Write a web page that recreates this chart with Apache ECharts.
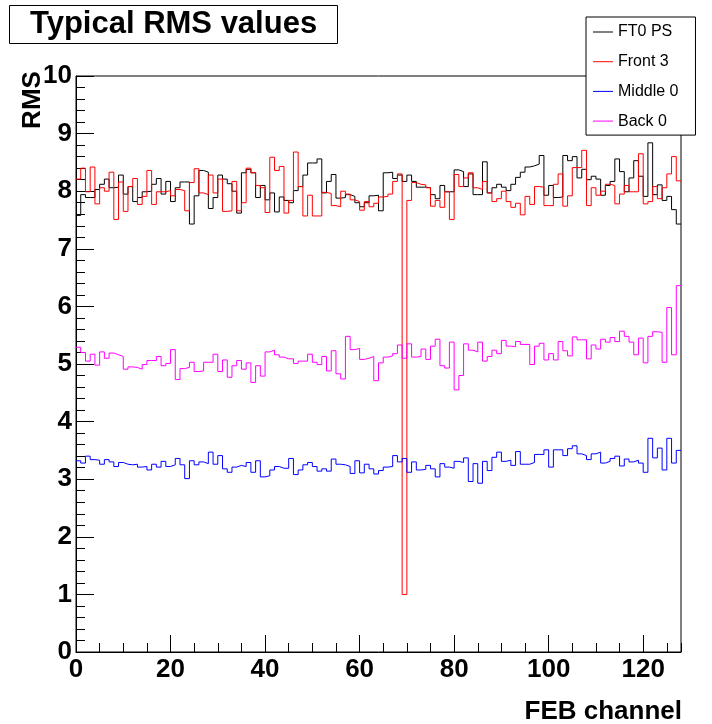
<!DOCTYPE html>
<html>
<head>
<meta charset="utf-8">
<script src="https://cdn.jsdelivr.net/npm/echarts@6/dist/echarts.min.js"></script>
<style>
html,body{margin:0;padding:0;background:#fff;}
#chart{width:712px;height:724px;}
</style>
</head>
<body>
<div id="chart"></div>
<script>
const nBins = 128;
const seriesNames = ['FT0 PS', 'Front 3', 'Middle 0', 'Back 0'];
const xTickValues = [0, 20, 40, 60, 80, 100, 120];
const yTickValues = [0, 1, 2, 3, 4, 5, 6, 7, 8, 9, 10];

const ft0ps = [7.58,7.94,7.89,7.89,8.03,8.12,8.21,8.06,8.07,8.28,
 7.95,8.08,7.82,7.89,7.99,8.00,8.12,8.22,7.95,8.17,
 7.82,8.06,8.16,8.16,7.43,7.92,8.36,8.33,7.70,7.89,
 8.28,8.21,8.13,8.00,7.62,8.32,8.38,8.32,7.89,8.10,
 7.85,7.97,7.64,7.90,7.84,7.80,8.01,8.08,8.28,8.49,
 8.49,8.56,7.97,8.17,8.29,7.88,7.89,7.94,7.91,7.80,
 7.73,7.80,7.92,7.93,7.66,8.32,8.33,8.22,8.28,8.17,
 8.28,8.17,8.07,8.07,8.06,7.94,7.87,8.10,7.99,7.99,
 8.37,8.34,8.08,8.30,7.94,7.94,8.51,7.97,8.06,8.12,
 8.07,8.01,8.12,8.24,8.33,8.42,8.44,8.47,8.62,7.93,
 8.10,7.89,7.90,8.62,8.53,8.60,8.23,8.38,8.20,8.26,
 8.21,7.93,8.10,8.17,8.56,8.34,7.99,8.23,8.53,8.26,
 7.91,8.84,7.94,8.11,7.84,7.91,7.68,7.43];

const front3 = [8.21,8.40,7.99,8.42,7.78,8.06,8.00,8.33,7.51,8.16,
 7.65,8.08,8.22,7.77,7.91,8.36,7.77,7.99,7.99,8.01,
 7.92,8.03,8.01,7.66,8.15,8.39,7.97,7.94,8.28,7.97,
 8.21,7.65,7.66,8.17,7.66,7.80,8.40,8.32,8.10,8.06,
 7.63,8.59,8.36,8.43,7.62,7.84,8.68,8.08,7.57,7.93,
 7.57,7.57,7.98,7.96,7.75,7.73,8.00,7.95,7.85,7.82,
 7.67,7.82,7.73,7.79,7.90,7.91,7.95,8.17,8.30,1.00,
 7.84,8.15,8.12,8.11,8.06,7.74,7.84,7.72,7.99,7.51,
 8.29,8.08,8.23,8.32,8.06,8.03,8.17,7.97,7.82,7.87,
 8.00,7.82,7.72,7.79,7.59,7.91,7.77,8.08,8.07,7.75,
 7.75,8.12,8.30,7.74,7.92,8.41,8.41,8.71,7.75,8.06,
 7.93,8.00,8.12,8.10,7.78,7.95,8.10,7.99,7.99,8.65,
 7.78,7.82,8.08,7.87,8.06,8.30,8.60,8.18];

const middle0 = [3.32,3.28,3.40,3.34,3.33,3.26,3.34,3.30,3.22,3.29,
 3.26,3.25,3.26,3.21,3.22,3.16,3.26,3.21,3.31,3.22,
 3.25,3.36,3.25,3.01,3.32,3.25,3.30,3.27,3.47,3.26,
 3.41,3.18,3.12,3.21,3.24,3.22,3.29,3.12,3.32,3.04,
 3.06,3.16,3.22,3.19,3.19,3.36,3.08,3.16,3.25,3.29,
 3.22,3.14,3.18,3.14,3.35,3.26,3.25,3.22,3.10,3.32,
 3.11,3.26,3.18,3.09,3.15,3.21,3.22,3.41,3.30,3.36,
 3.12,3.30,3.16,3.17,3.24,3.18,3.04,3.27,3.21,3.19,
 3.31,3.29,3.37,2.96,3.27,2.93,3.31,3.15,3.38,3.47,
 3.31,3.33,3.24,3.48,3.26,3.26,3.29,3.43,3.43,3.51,
 3.21,3.51,3.51,3.41,3.53,3.58,3.44,3.41,3.34,3.44,
 3.47,3.28,3.31,3.36,3.40,3.23,3.35,3.30,3.33,3.28,
 3.12,3.71,3.37,3.54,3.16,3.71,3.28,3.50];

const back0 = [5.29,5.20,5.05,5.17,4.98,5.21,5.10,5.19,5.16,5.13,
 4.91,4.95,4.94,4.91,4.99,5.06,5.06,5.13,4.97,5.01,
 5.25,4.73,4.92,4.94,5.03,4.87,4.88,5.03,5.03,5.17,
 4.87,5.07,4.77,4.97,5.06,4.91,5.02,4.68,4.97,4.79,
 5.21,5.24,5.16,5.12,5.09,5.09,5.01,5.05,5.05,5.17,
 5.03,4.99,5.13,4.88,5.23,4.83,4.74,5.48,5.25,5.27,
 5.08,5.10,5.13,4.71,5.02,5.12,5.14,5.18,5.33,5.10,
 5.35,5.12,5.13,5.26,5.08,5.31,5.43,4.97,4.93,5.38,
 4.55,4.80,5.35,5.24,5.21,5.38,5.05,5.13,5.24,5.18,
 5.41,5.31,5.30,5.39,5.34,5.34,4.99,5.31,5.36,5.07,
 5.18,5.07,5.39,5.23,5.14,5.47,5.42,5.42,5.09,5.33,
 5.26,5.43,5.38,5.46,5.39,5.57,5.48,5.38,5.16,5.45,
 5.02,5.48,5.56,5.55,5.03,5.98,5.16,6.36];

const seriesColors = ['#000000', '#ff0000', '#0000ff', '#ff00ff'];
const seriesValues = [ft0ps, front3, middle0, back0];

const FONT = '"Liberation Sans", Arial, Helvetica, sans-serif';

function histPoints(vals) {
  const pts = vals.map((v, i) => [i, v]);
  pts.push([nBins, vals[vals.length - 1]]);
  return pts;
}

const chart = echarts.init(document.getElementById('chart'), null, {renderer: 'canvas'});

const gridBox = {left: 76, top: 76, width: 605, height: 576};

const option = {
  animation: false,
  backgroundColor: '#ffffff',
  title: {
    text: 'Typical RMS values',
    left: 9, top: 5,
    padding: [4, 21],
    borderColor: '#000', borderWidth: 1, backgroundColor: '#fff',
    textStyle: {fontFamily: FONT, fontWeight: 'bold', fontSize: 31, lineHeight: 31, color: '#000'}
  },
  legend: {
    orient: 'vertical', left: 586, top: 17,
    padding: [7, 17, 6, 7],
    itemWidth: 20, itemHeight: 1, itemGap: 13.7,
    icon: 'rect',
    align: 'left',
    backgroundColor: '#fff', borderColor: '#000', borderWidth: 1,
    textStyle: {fontFamily: FONT, fontSize: 16, lineHeight: 16, color: '#000'},
    data: seriesNames,
    z: 10
  },
  grid: [
    Object.assign({show: true, borderColor: '#000', borderWidth: 1, backgroundColor: 'transparent'}, gridBox),
    Object.assign({show: false}, gridBox)
  ],
  xAxis: [
    {
      type: 'value', gridIndex: 0, min: 0, max: nBins, interval: 20,
      axisLine: {show: true, lineStyle: {color: '#000', width: 1}},
      axisTick: {show: true, inside: true, length: 17, lineStyle: {color: '#000'}},
      axisLabel: {
        show: true, margin: 5, showMaxLabel: false,
        fontFamily: FONT, fontWeight: 'bold', fontSize: 26, color: '#000',
        formatter: v => (xTickValues.indexOf(v) >= 0 ? String(v) : '')
      },
      splitLine: {show: false}
    },
    {
      type: 'value', gridIndex: 1, min: 0, max: nBins, interval: 5,
      axisLine: {show: false},
      axisTick: {show: true, inside: true, length: 9, lineStyle: {color: '#000'}},
      axisLabel: {show: false},
      splitLine: {show: false}
    }
  ],
  yAxis: [
    {
      type: 'value', gridIndex: 0, min: 0, max: 10, interval: 1,
      axisLine: {show: true, lineStyle: {color: '#000', width: 1}},
      axisTick: {show: true, inside: true, length: 18, lineStyle: {color: '#000'}},
      minorTick: {show: true, splitNumber: 5, length: 9, lineStyle: {color: '#000'}},
      axisLabel: {
        show: true, margin: 4, padding: [6, 0, 0, 0],
        fontFamily: FONT, fontWeight: 'bold', fontSize: 26, color: '#000',
        formatter: v => (yTickValues.indexOf(v) >= 0 ? String(v) : '')
      },
      splitLine: {show: false}
    },
    {
      type: 'value', gridIndex: 1, min: 0, max: 10, show: false
    }
  ],
  graphic: [
    {
      type: 'text', x: 33, y: 100, rotation: Math.PI / 2,
      style: {text: 'RMS', font: 'bold 26px ' + FONT, fill: '#000',
        textAlign: 'center', textVerticalAlign: 'middle', align: 'center', verticalAlign: 'middle'}
    },
    {
      type: 'text', x: 682, y: 712,
      style: {text: 'FEB channel', font: 'bold 26px ' + FONT, fill: '#000',
        textAlign: 'right', textVerticalAlign: 'middle', align: 'right', verticalAlign: 'middle'}
    }
  ],
  series: seriesNames.map((name, k) => ({
    name: name,
    type: 'line',
    xAxisIndex: 0, yAxisIndex: 0,
    step: 'end',
    symbol: 'none',
    showSymbol: false,
    clip: true,
    lineStyle: {color: seriesColors[k], width: 1},
    itemStyle: {color: seriesColors[k]},
    emphasis: {disabled: true},
    data: histPoints(seriesValues[k])
  }))
};

chart.setOption(option);
</script>
</body>
</html>
